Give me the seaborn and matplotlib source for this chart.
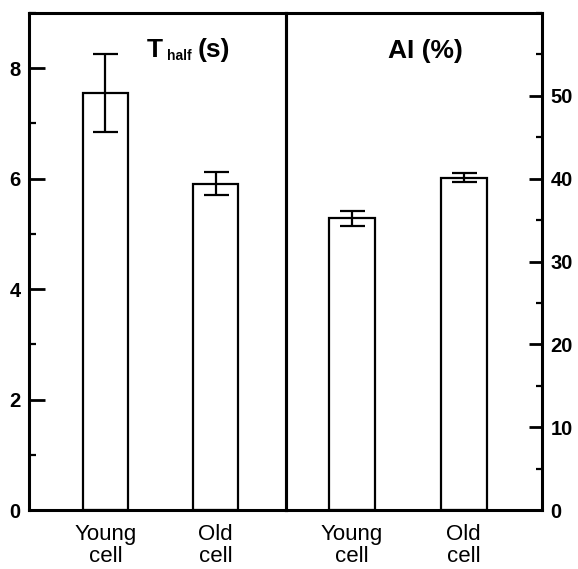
import matplotlib
matplotlib.use("Agg")
import matplotlib.pyplot as plt
import seaborn as sns
import pandas as pd
from matplotlib.ticker import MultipleLocator

categories = ["Young\ncell", "Old\ncell"]
thalf_values = [7.55, 5.91]
thalf_errors = [0.71, 0.21]
ai_values = [35.2, 40.1]
ai_errors = [0.95, 0.55]
left_ticks = [0, 2, 4, 6, 8]
right_ticks = [0, 10, 20, 30, 40, 50]

sns.set_theme(style="white")
plt.rcParams['font.family'] = ['Liberation Sans', 'DejaVu Sans']
plt.rcParams['text.color'] = 'black'
plt.rcParams['xtick.color'] = 'black'
plt.rcParams['ytick.color'] = 'black'
plt.rcParams['axes.labelcolor'] = 'black'

W, H = 578, 569
fig = plt.figure(figsize=(W / 100, H / 100), dpi=100)

def fx(px):
    return px / W

def fy(py):
    return 1 - py / H

bottom_px, top_px = 510, 13
ax1 = fig.add_axes([fx(29), fy(bottom_px), fx(286 - 29), (bottom_px - top_px) / H])
ax2 = fig.add_axes([fx(286), fy(bottom_px), fx(542 - 286), (bottom_px - top_px) / H])
ax2.patch.set_alpha(0)

df1 = pd.DataFrame({"cat": categories, "val": thalf_values})
df2 = pd.DataFrame({"cat": categories, "val": ai_values})

for ax, df, errs in [(ax1, df1, thalf_errors), (ax2, df2, ai_errors)]:
    sns.barplot(data=df, x="cat", y="val", ax=ax, color="white",
                edgecolor="black", linewidth=1.6, width=0.41, errorbar=None,
                saturation=1)
    ax.errorbar(x=range(len(df)), y=df["val"], yerr=errs, fmt="none",
                ecolor="black", elinewidth=1.6, capsize=9, capthick=1.6)
    ax.set_xlabel("")
    ax.set_ylabel("")
    for s in ax.spines.values():
        s.set_visible(True)
        s.set_color("black")
        s.set_linewidth(2.2)
    ax.tick_params(axis="x", length=0, pad=10, labelsize=16, labelcolor="black")
    for lab in ax.get_xticklabels():
        lab.set_linespacing(1.05)
        lab.set_fontweight("medium")

ax1.set_xlim(-0.695, 1.64)
ax2.set_xlim(-0.585, 1.70)

ax1.set_ylim(0, 9)
ax1.set_yticks(left_ticks)
ax1.yaxis.set_minor_locator(MultipleLocator(1))
ax1.tick_params(axis="y", which="major", direction="in", length=11.5, width=2,
                labelsize=14.5, pad=6, left=True, right=False, color="black",
                labelcolor="black")
ax1.tick_params(axis="y", which="minor", direction="in", length=5, width=1.6,
                left=True, right=False, color="black")
for lab in ax1.get_yticklabels():
    lab.set_fontweight("bold")

ax2.set_ylim(0, 60)
ax2.set_yticks(right_ticks)
ax2.yaxis.set_minor_locator(MultipleLocator(5))
ax2.yaxis.tick_right()
ax2.tick_params(axis="y", which="major", direction="in", length=9.5, width=2,
                labelsize=14.5, pad=6, left=False, right=True, labelleft=False,
                labelright=True, color="black", labelcolor="black")
ax2.tick_params(axis="y", which="minor", direction="in", length=4, width=1.6,
                left=False, right=True, color="black")
for lab in ax2.get_yticklabels():
    lab.set_fontweight("bold")

# Titles
fig.text(fx(147), fy(57), "T", fontsize=19, fontweight="bold", ha="left", va="baseline")
fig.text(fx(167), fy(60), "half", fontsize=10, fontweight="bold", ha="left", va="baseline")
fig.text(fx(198), fy(57), "(s)", fontsize=19, fontweight="bold", ha="left", va="baseline")
fig.text(fx(425), fy(58), "AI (%)", fontsize=19, fontweight="bold", ha="center", va="baseline")

fig.savefig("out.png", dpi=100)
